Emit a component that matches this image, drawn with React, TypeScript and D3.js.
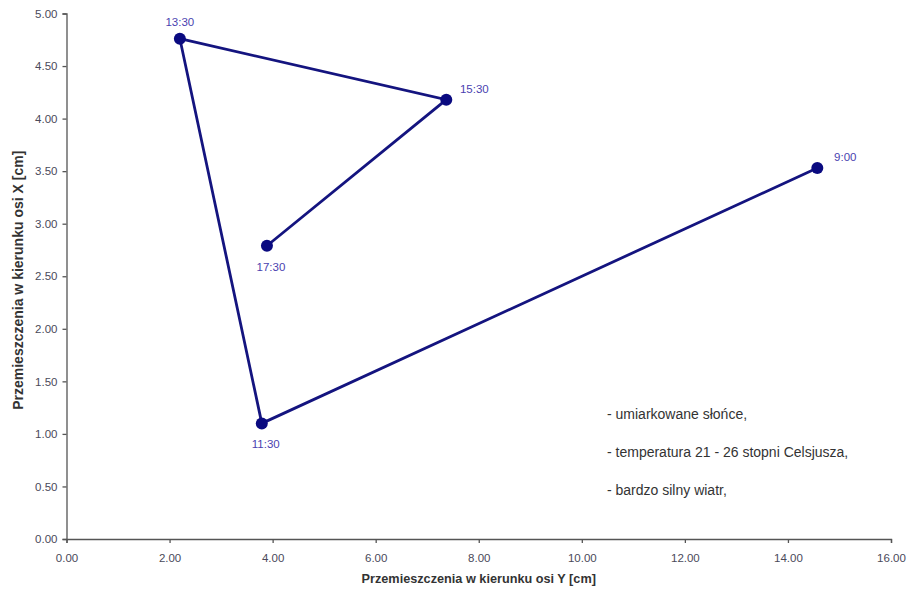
import React, { useEffect, useRef } from "react";
import * as d3 from "d3";

// przemieszczenia w czasie
const times = ["9:00", "11:30", "13:30", "15:30", "17:30"];
const dispY = [14.57, 3.79, 2.2, 7.37, 3.89];
const dispX = [3.53, 1.1, 4.76, 4.18, 2.79];
const labelPos = ["right", "below", "above", "right", "below"];

const notes = [
  "- umiarkowane słońce,",
  "- temperatura 21 - 26 stopni Celsjusza,",
  "- bardzo silny wiatr,",
];

const xTicks = d3.range(0, 16.01, 2);
const yTicks = d3.range(0, 5.01, 0.5);

const W = 910;
const H = 593;
const margin = { left: 66.5, right: 19, top: 13.5, bottom: 54 };

const App = () => {
  const ref = useRef<SVGSVGElement>(null);

  useEffect(() => {
    const svg = d3.select(ref.current);
    svg.selectAll("*").remove();

    const x = d3.scaleLinear().domain([0, 16]).range([margin.left, W - margin.right]);
    const y = d3.scaleLinear().domain([0, 5]).range([H - margin.bottom, margin.top]);

    const font = "Liberation Sans, Arial, sans-serif";

    const xAxis = svg
      .append("g")
      .attr("transform", `translate(0,${y(0)})`)
      .call(d3.axisBottom(x).tickValues(xTicks).tickFormat(d3.format(".2f")).tickSizeOuter(0).tickSize(4));
    const yAxis = svg
      .append("g")
      .attr("transform", `translate(${x(0)},0)`)
      .call(d3.axisLeft(y).tickValues(yTicks).tickFormat(d3.format(".2f")).tickSizeOuter(0).tickSize(4));

    [xAxis, yAxis].forEach((a) => {
      a.select(".domain").attr("stroke", "#555").attr("stroke-width", 1.3);
      a.selectAll(".tick line").attr("stroke", "#555").attr("stroke-width", 1.3);
      a.selectAll(".tick text")
        .attr("fill", "#4a4a5a")
        .style("font-family", font)
        .style("font-size", "11.5px");
    });
    xAxis.selectAll(".tick text").attr("dy", "1.35em");
    yAxis.selectAll(".tick text").attr("x", -9);

    const pts = times.map((t, i) => ({ t, vx: dispY[i], vy: dispX[i], pos: labelPos[i] }));

    const line = d3
      .line<(typeof pts)[0]>()
      .x((d) => x(d.vx))
      .y((d) => y(d.vy));

    svg
      .append("path")
      .datum(pts)
      .attr("d", line)
      .attr("fill", "none")
      .attr("stroke", "#14147f")
      .attr("stroke-width", 2.8);

    svg
      .selectAll("circle.pt")
      .data(pts)
      .join("circle")
      .attr("class", "pt")
      .attr("cx", (d) => x(d.vx))
      .attr("cy", (d) => y(d.vy))
      .attr("r", 6)
      .attr("fill", "#0a0a80");

    svg
      .selectAll("text.lbl")
      .data(pts)
      .join("text")
      .attr("class", "lbl")
      .attr("x", (d) => x(d.vx) + (d.pos === "right" ? 28 : d.pos === "below" ? 4 : 0))
      .attr("y", (d) => y(d.vy) + (d.pos === "right" ? -7 : d.pos === "below" ? 25 : -13))
      .attr("text-anchor", "middle")
      .attr("fill", "#4a3fb0")
      .style("font-family", font)
      .style("font-size", "11.5px")
      .text((d) => d.t);

    svg
      .selectAll("text.note")
      .data(notes)
      .join("text")
      .attr("class", "note")
      .attr("x", 607)
      .attr("y", (d, i) => 419 + i * 38)
      .attr("fill", "#333")
      .style("font-family", font)
      .style("font-size", "14px")
      .text((d) => d);

    svg
      .append("text")
      .attr("x", (x(0) + x(16)) / 2)
      .attr("y", 583)
      .attr("text-anchor", "middle")
      .attr("fill", "#333")
      .style("font-family", font)
      .style("font-size", "12.7px")
      .style("font-weight", "bold")
      .text("Przemieszczenia w kierunku osi Y [cm]");

    svg
      .append("text")
      .attr("transform", `translate(23,${(y(0) + y(5)) / 2 + 4}) rotate(-90)`)
      .attr("text-anchor", "middle")
      .attr("fill", "#333")
      .style("font-family", font)
      .style("font-size", "14px")
      .style("font-weight", "bold")
      .text("Przemieszczenia w kierunku osi X [cm]");
  }, []);

  return (
    <svg
      ref={ref}
      width={W}
      height={H}
      style={{ position: "absolute", left: 0, top: 0, background: "#fff" }}
    />
  );
};

export default App;
